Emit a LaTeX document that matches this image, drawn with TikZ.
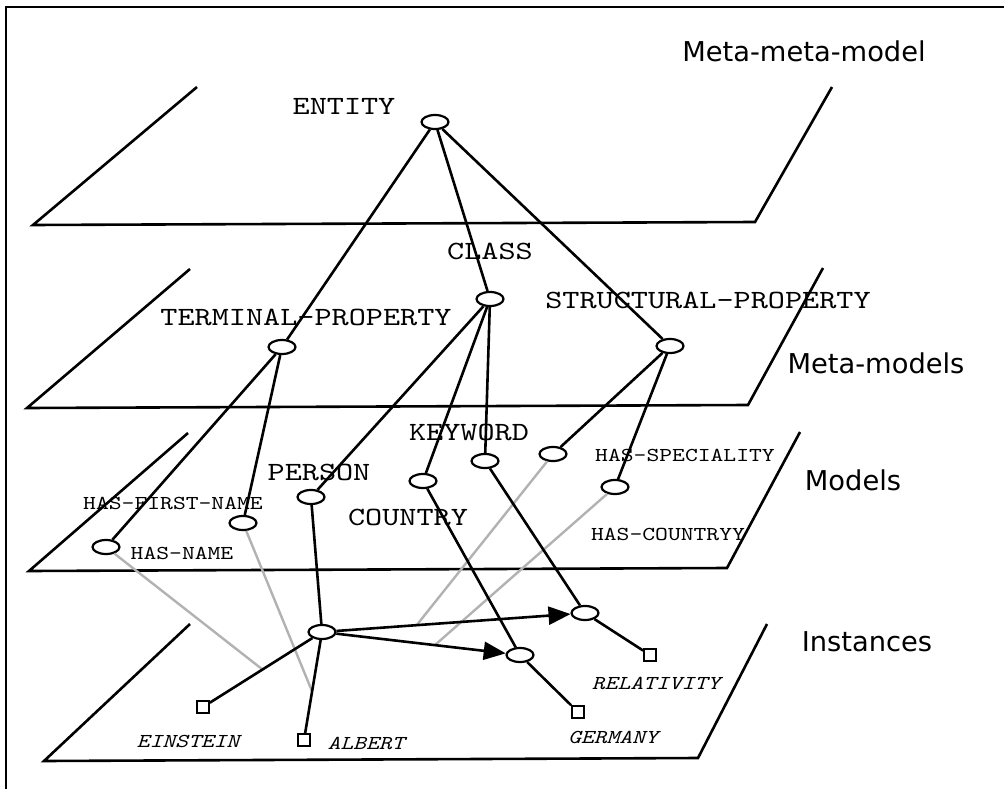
\documentclass[tikz,border=0pt]{standalone}
\usepackage{fontspec}
\setsansfont{DejaVu Sans}
\newfontfamily\typewriter{lmmono10-regular.otf}[FakeStretch=1.24,ItalicFont=lmmono10-italic.otf,ItalicFeatures={FakeStretch=1.24}]
\usetikzlibrary{shapes.geometric,arrows.meta,calc}
\begin{document}
\begin{tikzpicture}[x=1pt,y=-1pt,
  obj/.style={draw,ellipse,line width=2.2pt,minimum width=27pt,minimum height=14pt,inner sep=0pt},
  val/.style={draw,rectangle,line width=2.2pt,minimum size=11.5pt,inner sep=0pt},
  link/.style={line width=2.6pt},
  ilink/.style={line width=2.4pt,color=black!30},
  relarrow/.style={link,-{Triangle[length=22pt,width=18pt]}},
  plane/.style={line width=2.6pt,line join=miter},
  big/.style={font=\typewriter\fontsize{26.3}{28}\selectfont,inner sep=0pt,text depth=0pt},
  small/.style={font=\typewriter\fontsize{19.7}{21}\selectfont,inner sep=0pt,text depth=0pt},
  inst/.style={font=\typewriter\itshape\fontsize{19.7}{21}\selectfont,inner sep=0pt,text depth=0pt},
  level/.style={font=\sffamily\fontsize{27.3}{29}\selectfont,inner sep=0pt,text depth=0pt}]
\useasboundingbox (0,0) rectangle (1004,789);

% frame
\draw[line width=2.8pt] (6,800) -- (6,7) -- (1010,7);

% the four layers
\draw[plane] (197,87) -- (33,225) -- (755,222) -- (832,87);
\draw[plane] (190,269) -- (27,408) -- (748,405) -- (823,268);
\draw[plane] (188,433) -- (29,571) -- (727,568) -- (800,432);
\draw[plane] (190,624) -- (44,761) -- (698,758) -- (767,624);

% layer names
\node[level] (lmm) at (804,51) {Meta-meta-model};
\node[level] (lm)  at (876,363) {Meta-models};
\node[level] (lmo) at (853,480) {Models};
\node[level] (lin) at (867,642) {Instances};

% labels
\node[big] (tentity) at (344,106) {ENTITY};
\node[big] (tclass)  at (490,251) {CLASS};
\node[big] (ttprop)  at (306,317) {TERMINAL-PROPERTY};
\node[big] (tsprop)  at (708,300) {STRUCTURAL-PROPERTY};
\node[big] (tkey)    at (469,432) {KEYWORD};
\node[big] (tperson) at (319,472) {PERSON};
\node[big] (tcountry) at (408,517) {COUNTRY};
\node[small] (thfn) at (173,503) {HAS-FIRST-NAME};
\node[small] (thn)  at (182,553) {HAS-NAME};
\node[small] (thsp) at (685,455) {HAS-SPECIALITY};
\node[small] (thco) at (668,534) {HAS-COUNTRYY};
\node[inst] (tein) at (188,741) {EINSTEIN};
\node[inst] (talb) at (366,743) {ALBERT};
\node[inst] (tger) at (613,737) {GERMANY};
\node[inst] (trel) at (656,683) {RELATIVITY};

% objects
\node[obj] (entity)  at (435,122) {};
\node[obj] (class)   at (490,299) {};
\node[obj] (tprop)   at (282,347) {};
\node[obj] (sprop)   at (670,346) {};
\node[obj] (keyword) at (485,461) {};
\node[obj] (hasspec) at (553,454) {};
\node[obj] (person)  at (311,497) {};
\node[obj] (country) at (423,481) {};
\node[obj] (hascoun) at (615,487) {};
\node[obj] (hasfn)   at (243,523) {};
\node[obj] (hasname) at (106,547) {};
\node[obj] (einst)   at (322,632) {};
\node[obj] (relat)   at (585,613) {};
\node[obj] (germ)    at (520,655) {};

% values
\node[val] (vein) at (203,707) {};
\node[val] (valb) at (304,740) {};
\node[val] (vger) at (578,712) {};
\node[val] (vrel) at (650,655) {};

% points where property links meet instance links
\coordinate (mname) at ($(einst)!0.5!(vein)$);
\coordinate (mfn)   at ($(einst)!0.55!(valb)$);
\coordinate (mspec) at ($(einst)!0.36!(relat)$);
\coordinate (mcoun) at ($(einst)!0.57!(germ)$);

% instance-of links to properties
\draw[ilink] (hasname) -- (mname);
\draw[ilink] (hasfn) -- (mfn);
\draw[ilink] (hasspec) -- (mspec);
\draw[ilink] (hascoun) -- (mcoun);

% meta links
\draw[link] (entity) -- (tprop);
\draw[link] (entity) -- (class);
\draw[link] (entity) -- (sprop);
\draw[link] (class) -- (person);
\draw[link] (class) -- (country);
\draw[link] (class) -- (keyword);
\draw[link] (tprop) -- (hasname);
\draw[link] (tprop) -- (hasfn);
\draw[link] (sprop) -- (hasspec);
\draw[link] (sprop) -- (hascoun);
\draw[link] (person) -- (einst);
\draw[link] (country) -- (germ);
\draw[link] (keyword) -- (relat);

% instance level
\draw[relarrow] (einst) -- (relat);
\draw[relarrow] (einst) -- (germ);
\draw[link] (einst) -- (vein);
\draw[link] (einst) -- (valb);
\draw[link] (germ) -- (vger);
\draw[link] (relat) -- (vrel);
\end{tikzpicture}
\end{document}
